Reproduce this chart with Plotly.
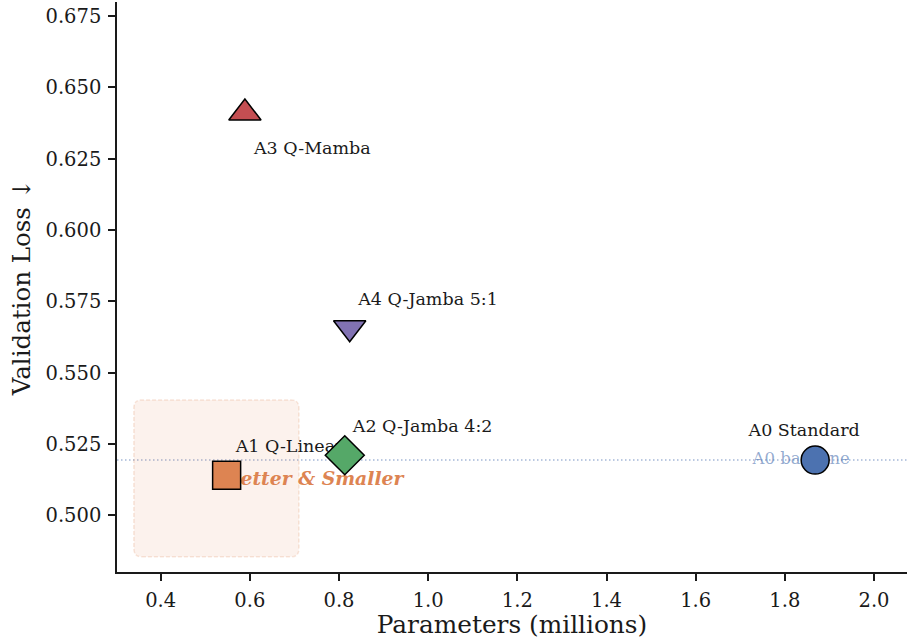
import plotly.graph_objects as go

# ---- data ----
MODELS = ["A0 Standard", "A1 Q-Linear", "A2 Q-Jamba 4:2", "A3 Q-Mamba", "A4 Q-Jamba 5:1"]
PARAMS_M = [1.868, 0.548, 0.813, 0.589, 0.824]
VAL_LOSS = [0.5194, 0.5141, 0.5211, 0.6410, 0.5658]
BASELINE_LABEL = "A0 baseline"
REGION_LABEL = "Better & Smaller"
REGION_X = [0.34, 0.71]
REGION_Y = [0.4855, 0.5405]
X_TICKS = [0.4, 0.6, 0.8, 1.0, 1.2, 1.4, 1.6, 1.8, 2.0]
Y_TICKS = [0.500, 0.525, 0.550, 0.575, 0.600, 0.625, 0.650, 0.675]

# ---- styling ----
COLORS = ["#4C72B0", "#DD8452", "#55A868", "#C44E52", "#8172B3"]
SYMBOLS = ["circle", "square", "diamond", "triangle-up", "triangle-down"]
SIZES = [28, 28, 30, 28, 28]
LABEL_DX = [-11, 9, 8, 9, 8.5]        # pixels
LABEL_DY = [-28, -28, -28, 37, -27.5]  # pixels, down positive
LABEL_POS = ["middle center", "middle right", "middle right", "middle right", "middle right"]

W, H = 908, 639
ML, MR, MT, MB = 117, 1, 2, 67
XR = [0.3021, 2.074]
YR = [0.4802, 0.6799]
PXX = (W - ML - MR) / (XR[1] - XR[0])
PXY = (H - MT - MB) / (YR[1] - YR[0])
FONT = "DejaVu Serif"

lab_x = [x + dx / PXX for x, dx in zip(PARAMS_M, LABEL_DX)]
lab_y = [y - dy / PXY for y, dy in zip(VAL_LOSS, LABEL_DY)]

fig = go.Figure()

# baseline dotted line
fig.add_shape(type="line", xref="paper", x0=0, x1=1, yref="y", y0=VAL_LOSS[0], y1=VAL_LOSS[0],
              line=dict(color="rgba(76,114,176,0.5)", width=1.5, dash="1.5px,2.5px"), layer="below")

# rounded highlight region
rx = 8 / PXX
ry = 8 / PXY
x0, x1 = REGION_X
y0, y1 = REGION_Y
path = (f"M {x0+rx},{y0} L {x1-rx},{y0} Q {x1},{y0} {x1},{y0+ry} "
        f"L {x1},{y1-ry} Q {x1},{y1} {x1-rx},{y1} L {x0+rx},{y1} Q {x0},{y1} {x0},{y1-ry} "
        f"L {x0},{y0+ry} Q {x0},{y0} {x0+rx},{y0} Z")
fig.add_shape(type="path", path=path, xref="x", yref="y",
              fillcolor="rgba(221,132,82,0.10)",
              line=dict(color="rgba(221,132,82,0.20)", width=1.5, dash="4px,2px"), layer="below")

# baseline label (under circle)
fig.add_trace(go.Scatter(x=[PARAMS_M[0] - 14 / PXX], y=[VAL_LOSS[0]], mode="text",
                         text=[BASELINE_LABEL], textposition="middle center",
                         textfont=dict(family=FONT, size=16.5, color="rgba(76,114,176,0.6)"),
                         hoverinfo="skip", showlegend=False))

# region label (under square)
fig.add_trace(go.Scatter(x=[PARAMS_M[1] - 2 / PXX], y=[VAL_LOSS[1] - 5 / PXY], mode="text",
                         text=[REGION_LABEL], textposition="middle right",
                         textfont=dict(family=FONT, size=18.8, color="#DD8452", weight="bold", style="italic"),
                         hoverinfo="skip", showlegend=False))

# model labels
fig.add_trace(go.Scatter(x=lab_x, y=lab_y, mode="text", text=MODELS, textposition=LABEL_POS,
                         textfont=dict(family=FONT, size=17.5, color="#1a1a1a"),
                         hoverinfo="skip", showlegend=False))

# markers
fig.add_trace(go.Scatter(x=PARAMS_M, y=VAL_LOSS, mode="markers", text=MODELS,
                         marker=dict(symbol=SYMBOLS, color=COLORS, size=SIZES,
                                     line=dict(color="black", width=1.5), opacity=1),
                         showlegend=False))

axis_common = dict(showline=True, linecolor="#1a1a1a", linewidth=1.5, ticks="outside",
                   ticklen=7, tickwidth=1.5, tickcolor="#1a1a1a", showgrid=False, zeroline=False,
                   tickfont=dict(family=FONT, size=19.5, color="#1a1a1a"),
                   mirror=False, automargin=False)

fig.update_layout(
    width=W, height=H, margin=dict(l=ML, r=MR, t=MT, b=MB),
    paper_bgcolor="white", plot_bgcolor="white",
    xaxis=dict(range=XR, tickvals=X_TICKS, ticktext=[f"{v:.1f}" for v in X_TICKS],
               title=dict(text="Parameters (millions)", font=dict(family=FONT, size=24.8, color="#1a1a1a"),
                          standoff=4),
               ticklabelstandoff=3, **axis_common),
    yaxis=dict(range=YR, tickvals=Y_TICKS, ticktext=[f"{v:.3f}" for v in Y_TICKS],
               title=dict(text="Validation Loss ↓", font=dict(family=FONT, size=24.5, color="#1a1a1a"),
                          standoff=8),
               ticklabelstandoff=3, **axis_common),
)

fig.write_html("out.html", config={"displayModeBar": False},
               post_script="document.body.style.margin='0';document.body.style.overflow='hidden';")
